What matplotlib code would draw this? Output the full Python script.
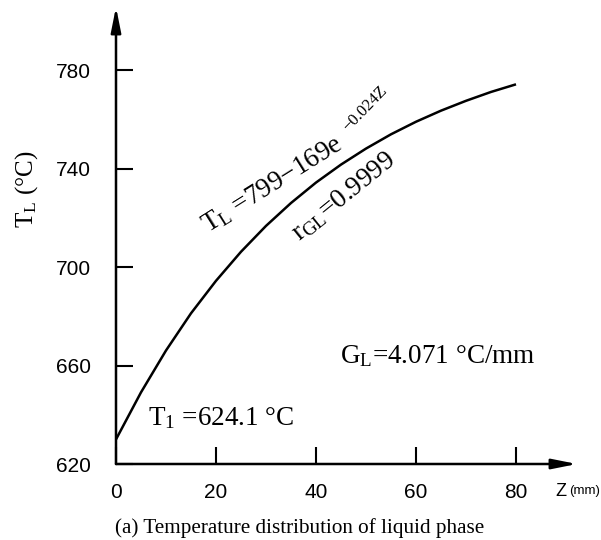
import matplotlib
matplotlib.use("Agg")
import matplotlib.pyplot as plt

# liquid phase temperature along the sample
z_mm = [0, 5, 10, 15, 20, 25, 30, 35, 40, 45, 50, 55, 60, 65, 70, 75, 80]
t_liquid = [630.0, 649.1, 666.1, 681.2, 694.4, 706.2, 716.7, 726.0, 734.3,
            741.6, 748.1, 753.9, 759.0, 763.5, 767.5, 771.1, 774.2]
x_ticks = [0, 20, 40, 60, 80]
y_ticks = [620, 660, 700, 740, 780]

plt.rcParams['mathtext.fontset'] = 'custom'
plt.rcParams['mathtext.rm'] = 'Liberation Serif'
plt.rcParams['mathtext.it'] = 'Liberation Serif:italic'

SERIF = ['Liberation Serif', 'DejaVu Serif']
SANS = ['Liberation Sans', 'DejaVu Sans']

fig = plt.figure(figsize=(6.01, 5.40), dpi=100, facecolor='white')
# axes box: data 0..80 -> px 116..516, 620..780 -> px 464..70
ax = fig.add_axes([116 / 601, 1 - 464 / 540, (577 - 116) / 601, (464 - 7) / 540])
ax.set_xlim(0, 92.2)
ax.set_ylim(620, 805.6)

for s in ax.spines.values():
    s.set_visible(False)

# axes drawn as arrows
arrow = dict(arrowstyle='-|>,head_length=1.0,head_width=0.2', color='black',
             lw=1.8, mutation_scale=15, shrinkA=0, shrinkB=0)
ax.annotate('', xy=(1, 0), xytext=(0, 0), xycoords='axes fraction', arrowprops=arrow)
ax.annotate('', xy=(0, 1), xytext=(0, 0), xycoords='axes fraction', arrowprops=arrow)

ax.plot(z_mm, t_liquid, color='black', lw=1.8, solid_capstyle='butt')

ax.set_xticks(x_ticks)
ax.set_yticks(y_ticks)
ax.tick_params(direction='in', length=12, width=1.5, color='black')
ax.tick_params(axis='x', pad=14)
ax.tick_params(axis='y', pad=18)
for lab in ax.get_xticklabels() + ax.get_yticklabels():
    lab.set_family(SANS)
    lab.set_fontsize(15)

# axis name on the right end of the Z axis
fig.text(561 / 601, 1 - 491 / 540, 'Z', family=SANS, fontsize=13, ha='center',
         va='center')
fig.text(569 / 601, 1 - 491 / 540, '(mm)', family=SANS, fontsize=9.5, ha='left',
         va='center')
fig.text(27 / 601, 1 - 189 / 540, r'$\mathrm{T_L}$ (°C)', rotation=90, family=SERIF,
         fontsize=18, ha='center', va='center')

# fitted equation along the curve, exponent set steeper as in the source
ax.text(18.4, 713.8, r'$\mathrm{T_L}$ =799−169e', family=SERIF,
        fontsize=19.5, rotation=32, rotation_mode='anchor', ha='left', va='baseline')
ax.text(46.4, 755.0, '−0.024Z', family=SERIF, fontsize=12,
        rotation=46, rotation_mode='anchor', ha='left', va='baseline')
ax.text(36.6, 710.5, r'$\mathrm{r_{GL}}$=0.9999', family=SERIF, fontsize=19.5,
        rotation=39, rotation_mode='anchor', ha='left', va='baseline')
ax.text(6.4, 635.8, r'$\mathrm{T_1}$ =624.1 °C', family=SERIF, fontsize=19.5,
        ha='left', va='baseline')
ax.text(44.8, 661.0, r'$\mathrm{G_L}$=4.071 °C/mm', family=SERIF, fontsize=19.5,
        ha='left', va='baseline')

fig.text(300 / 601, 1 - 528 / 540, '(a) Temperature distribution of liquid phase',
         family=SERIF, fontsize=15.2, ha='center', va='center')

fig.savefig('out.png', dpi=100)
